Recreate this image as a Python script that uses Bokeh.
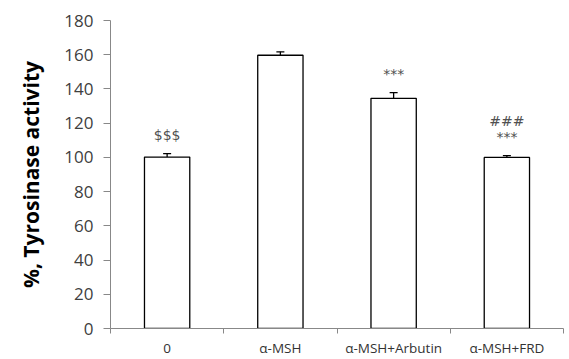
from bokeh.plotting import figure
from bokeh.models import ColumnDataSource, FixedTicker, Range1d, Whisker, TeeHead
from bokeh.embed import file_html
from bokeh.resources import INLINE
from bokeh.core.properties import value

categories = ["0", "α-MSH", "α-MSH+Arbutin", "α-MSH+FRD"]
activity = [100.2, 159.7, 134.5, 100.0]
errors = [2.0, 2.0, 3.4, 1.0]
sig_lower = ["$$$", "", "***", "***"]
sig_upper = ["", "", "", "###"]
y_ticks = [0, 20, 40, 60, 80, 100, 120, 140, 160, 180]

xs = [i + 0.5 for i in range(len(categories))]
src = ColumnDataSource(dict(
    x=xs, top=activity,
    upper=[a + e for a, e in zip(activity, errors)],
    lower=[a - e for a, e in zip(activity, errors)],
))

p = figure(width=569, height=359, output_backend="svg", toolbar_location=None,
           x_range=Range1d(0, len(categories)), y_range=Range1d(0, 180),
           min_border_left=110, min_border_right=6, min_border_top=20, min_border_bottom=30)
p.outline_line_color = None
p.xgrid.visible = False
p.ygrid.visible = False
p.background_fill_color = "white"
p.border_fill_color = "white"

p.vbar(x="x", top="top", width=0.4, source=src, fill_color="white",
       line_color="black", line_width=1.3)
p.add_layout(Whisker(source=src, base="x", upper="upper", lower="lower",
                     line_color="black", line_width=1.3,
                     upper_head=TeeHead(size=8, line_color="black", line_width=1.3),
                     lower_head=TeeHead(size=8, line_color="black", line_width=1.3)))

low_src = ColumnDataSource(dict(
    x=xs, y=[a + e + 11 for a, e in zip(activity, errors)], t=sig_lower))
p.text(x="x", y="y", text="t", source=low_src, text_align="center",
       text_baseline="middle", text_font_size="14px", text_color="#505050",
       text_font=value("DejaVu Sans"))
up_src = ColumnDataSource(dict(
    x=xs, y=[a + e + 20 for a, e in zip(activity, errors)], t=sig_upper))
p.text(x="x", y="y", text="t", source=up_src, text_align="center",
       text_baseline="middle", text_font_size="14px", text_color="#505050",
       text_font=value("DejaVu Sans"))

ax = p.xaxis[0]
ax.ticker = FixedTicker(ticks=xs, minor_ticks=list(range(len(categories) + 1)))
ax.major_label_overrides = {x: c for x, c in zip(xs, categories)}
ax.major_tick_out = 0
ax.major_tick_in = 0
ax.minor_tick_out = 5
ax.minor_tick_in = 0
ax.minor_tick_line_color = "#888888"
ax.axis_line_color = "#888888"
ax.major_label_text_font = "Open Sans"
ax.major_label_text_font_size = "13.5px"
ax.major_label_text_color = "#333333"
ax.major_label_standoff = 5

ay = p.yaxis[0]
ay.ticker = FixedTicker(ticks=y_ticks, minor_ticks=[])
ay.major_tick_out = 7
ay.major_tick_in = 0
ay.major_tick_line_color = "#888888"
ay.axis_line_color = "#888888"
ay.major_label_text_font = "Open Sans"
ay.major_label_text_font_size = "17px"
ay.major_label_text_color = "#404040"
ay.major_label_standoff = 10
ay.axis_label = "%, Tyrosinase activity"
ay.axis_label_text_font = "Open Sans"
ay.axis_label_text_font_style = "bold"
ay.axis_label_text_font_size = "21px"
ay.axis_label_text_color = "#000000"
ay.axis_label_standoff = 16

open("out.html", "w").write(file_html(p, INLINE))
